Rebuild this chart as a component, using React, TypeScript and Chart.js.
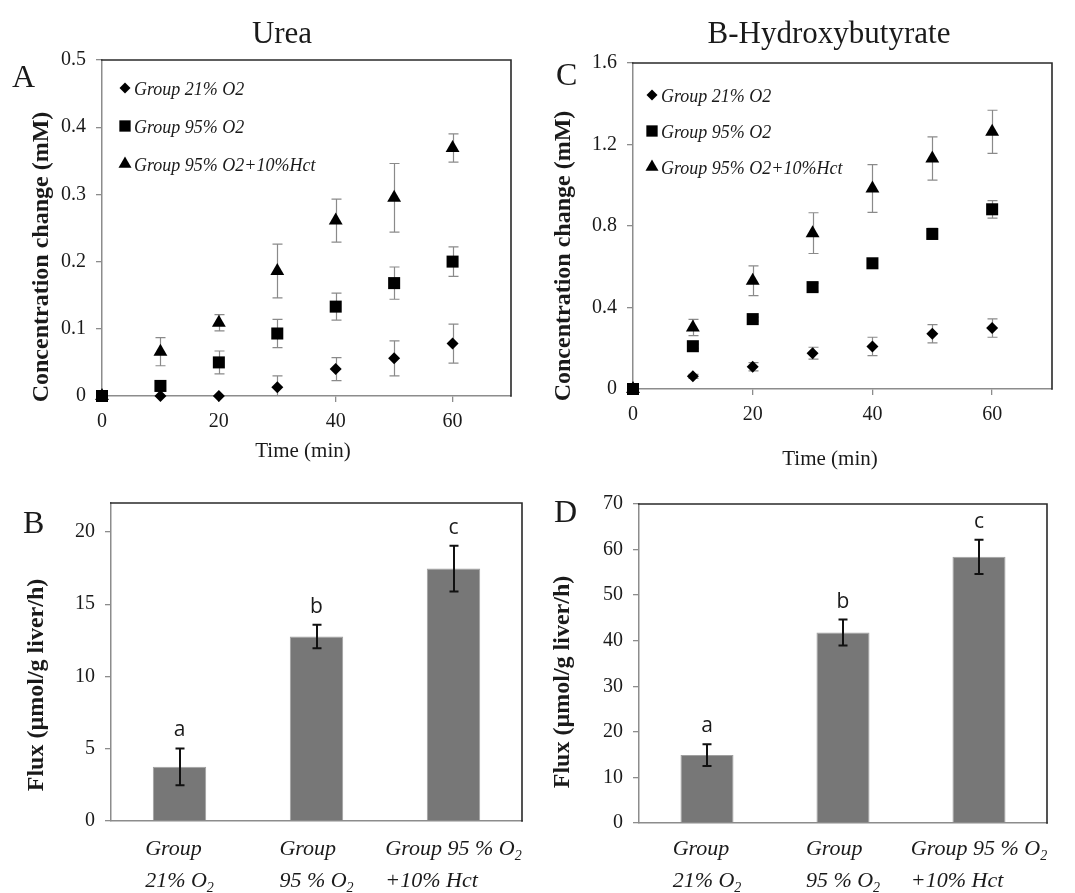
import React, { useEffect, useRef } from 'react';
import { Chart, registerables } from 'chart.js';
import { drawPoint } from 'chart.js/helpers';

Chart.register(...registerables);

// ---------------- data ----------------
const timeMin = [0, 10, 20, 30, 40, 50, 60];
const timeTicks = [0, 20, 40, 60];
const seriesLabels = ['Group 21% O2', 'Group 95% O2', 'Group 95% O2+10%Hct'];

const urea21 = [0, 0, 0, 0.013, 0.040, 0.056, 0.078];
const urea21Err = [0, 0, 0, 0.017, 0.017, 0.026, 0.029];
const urea95 = [0, 0.015, 0.050, 0.093, 0.133, 0.168, 0.200];
const urea95Err = [0, 0.008, 0.017, 0.021, 0.020, 0.024, 0.022];
const ureaHct = [0, 0.066, 0.109, 0.186, 0.261, 0.295, 0.369];
const ureaHctErr = [0, 0.021, 0.012, 0.040, 0.032, 0.051, 0.021];
const ureaConcTicks = [0, 0.1, 0.2, 0.3, 0.4, 0.5];

const bhb21 = [0, 0.062, 0.109, 0.176, 0.209, 0.271, 0.299];
const bhb21Err = [0, 0.010, 0.020, 0.029, 0.045, 0.045, 0.045];
const bhb95 = [0, 0.210, 0.343, 0.500, 0.617, 0.761, 0.882];
const bhb95Err = [0, 0.010, 0.010, 0.020, 0.015, 0.027, 0.043];
const bhbHct = [0, 0.302, 0.531, 0.765, 0.984, 1.131, 1.262];
const bhbHctErr = [0, 0.040, 0.073, 0.100, 0.117, 0.106, 0.106];
const bhbConcTicks = [0, 0.4, 0.8, 1.2, 1.6];

const fluxGroups = [['Group', '21% O₂'], ['Group', '95 % O₂'], ['Group 95 % O₂', '+10% Hct']];
const ureaFlux = [3.75, 12.76, 17.46];
const ureaFluxErr = [1.27, 0.81, 1.59];
const ureaFluxTicks = [0, 5, 10, 15, 20];
const bhbFlux = [14.9, 41.8, 58.4];
const bhbFluxErr = [2.4, 2.85, 3.75];
const bhbFluxTicks = [0, 10, 20, 30, 40, 50, 60, 70];
const sigLetters = ['a', 'b', 'c'];

// ---------------- layout / style ----------------
const W = 1075;
const H = 893;
const YW = 60;
const XH = 40;
const SERIF = '"Liberation Serif", "Times New Roman", serif';
const SANS = '"Open Sans", "Liberation Sans", sans-serif';
const AXIS = '#8c8c8c';
const TEXT = '#1a1a1a';
const pointStyles = ['rectRot', 'rect', 'triangle'];
const pointRadii = [6, 8.5, 8];
const legendRadii = [5.5, 8, 7.5];

const panelA = {
  kind: 'scatter',
  area: { left: 102, right: 511, top: 60, bottom: 396 },
  series: [urea21, urea95, ureaHct],
  errs: [urea21Err, urea95Err, ureaHctErr],
  yTicks: ureaConcTicks, yMax: 0.5,
  title: 'Urea', titleX: 282, titleBase: 43,
  letter: 'A', letterX: 12, letterBase: 87,
  yTitle: 'Concentration change (mM)', yTitleX: 42, yTitleY: 257,
  xTitle: 'Time (min)', xTitleX: 303, xTitleBase: 457,
  legendX: 125, legendBase: 95, legendGap: 38,
};
const panelC = {
  kind: 'scatter',
  area: { left: 633, right: 1052, top: 63, bottom: 389 },
  series: [bhb21, bhb95, bhbHct],
  errs: [bhb21Err, bhb95Err, bhbHctErr],
  yTicks: bhbConcTicks, yMax: 1.6,
  title: 'B-Hydroxybutyrate', titleX: 829, titleBase: 43,
  letter: 'C', letterX: 556, letterBase: 85,
  yTitle: 'Concentration change (mM)', yTitleX: 564, yTitleY: 256,
  xTitle: 'Time (min)', xTitleX: 830, xTitleBase: 465,
  legendX: 652, legendBase: 102, legendGap: 36,
};
const panelB = {
  kind: 'bar',
  area: { left: 111, right: 522, top: 503, bottom: 821 },
  values: ureaFlux, errs: ureaFluxErr,
  yTicks: ureaFluxTicks, yMax: 22,
  letter: 'B', letterX: 23, letterBase: 533,
  yTitle: 'Flux (µmol/g liver/h)', yTitleX: 37, yTitleY: 685,
  labelBase: [855, 887],
};
const panelD = {
  kind: 'bar',
  area: { left: 639, right: 1047, top: 504, bottom: 823 },
  values: bhbFlux, errs: bhbFluxErr,
  yTicks: bhbFluxTicks, yMax: 70,
  letter: 'D', letterX: 554, letterBase: 522,
  yTitle: 'Flux (µmol/g liver/h)', yTitleX: 563, yTitleY: 682,
  labelBase: [855, 887],
};

// ---------------- helpers ----------------
function richText(ctx: CanvasRenderingContext2D, text: string, x: number, y: number, size: number, draw: boolean) {
  let cx = x;
  for (const part of text.split(/(₂)/)) {
    if (!part) continue;
    if (part === '₂') {
      ctx.font = `italic ${Math.round(size * 0.65)}px ${SERIF}`;
      if (draw) ctx.fillText('2', cx, y + size * 0.22);
      cx += ctx.measureText('2').width;
    } else {
      ctx.font = `italic ${size}px ${SERIF}`;
      if (draw) ctx.fillText(part, cx, y);
      cx += ctx.measureText(part).width;
    }
  }
  return cx - x;
}

function yScaleOpts(ticks: number[], max: number) {
  return {
    type: 'linear',
    min: 0,
    max,
    afterBuildTicks: (s: any) => { s.ticks = ticks.map((v) => ({ value: v })); },
    afterFit: (s: any) => { s.width = YW; },
    grid: { display: true, drawOnChartArea: false, drawTicks: true, tickLength: 6, color: AXIS, lineWidth: 1.3 },
    border: { display: true, color: AXIS, width: 1.5 },
    ticks: { font: { family: SERIF, size: 20 }, color: TEXT, padding: 10, callback: (v: any) => String(v) },
  };
}

function basePadding(area: any) {
  return { left: area.left - YW, top: area.top, right: W - area.right, bottom: H - area.bottom - XH };
}

function drawFrame(chart: any) {
  const { ctx, chartArea: a } = chart;
  ctx.save();
  ctx.strokeStyle = '#2a2a2a';
  ctx.lineWidth = 1.6;
  ctx.beginPath();
  ctx.moveTo(a.left - 1, a.top);
  ctx.lineTo(a.right, a.top);
  ctx.lineTo(a.right, a.bottom + 0.75);
  ctx.stroke();
  ctx.restore();
}

function drawCommonText(chart: any, p: any) {
  const ctx = chart.ctx;
  ctx.save();
  ctx.fillStyle = TEXT;
  ctx.textBaseline = 'alphabetic';
  ctx.textAlign = 'left';
  ctx.font = `32px ${SERIF}`;
  ctx.fillText(p.letter, p.letterX, p.letterBase);
  if (p.title) {
    ctx.textAlign = 'center';
    ctx.font = `31px ${SERIF}`;
    ctx.fillText(p.title, p.titleX, p.titleBase);
  }
  ctx.save();
  ctx.translate(p.yTitleX, p.yTitleY);
  ctx.rotate(-Math.PI / 2);
  ctx.textAlign = 'center';
  ctx.textBaseline = 'middle';
  ctx.font = `bold 24px ${SERIF}`;
  ctx.fillText(p.yTitle, 0, 0);
  ctx.restore();
  ctx.restore();
}

function scatterConfig(p: any) {
  const decor = {
    id: 'decor',
    beforeDatasetsDraw(chart: any) {
      const { ctx, chartArea: a } = chart;
      const xs = chart.scales.x;
      const ys = chart.scales.y;
      ctx.save();
      ctx.beginPath();
      ctx.rect(a.left - 10, a.top - 30, a.right - a.left + 20, a.bottom - a.top + 30);
      ctx.clip();
      ctx.strokeStyle = '#8a8a8a';
      ctx.lineWidth = 1.2;
      p.series.forEach((vals: number[], i: number) => {
        vals.forEach((v, j) => {
          const e = p.errs[i][j];
          if (!e) return;
          const x = Math.round(xs.getPixelForValue(timeMin[j])) + 0.5;
          const y1 = ys.getPixelForValue(v + e);
          const y0 = ys.getPixelForValue(v - e);
          ctx.beginPath();
          ctx.moveTo(x, y0);
          ctx.lineTo(x, y1);
          ctx.moveTo(x - 5, y1);
          ctx.lineTo(x + 5, y1);
          if (y0 <= a.bottom) {
            ctx.moveTo(x - 5, y0);
            ctx.lineTo(x + 5, y0);
          }
          ctx.stroke();
        });
      });
      ctx.restore();
    },
    afterDraw(chart: any) {
      drawFrame(chart);
      drawCommonText(chart, p);
      const ctx = chart.ctx;
      ctx.save();
      ctx.fillStyle = TEXT;
      ctx.textAlign = 'center';
      ctx.textBaseline = 'alphabetic';
      ctx.font = `21px ${SERIF}`;
      ctx.fillText(p.xTitle, p.xTitleX, p.xTitleBase);
      // legend
      ctx.textAlign = 'left';
      seriesLabels.forEach((lab, i) => {
        const base = p.legendBase + i * p.legendGap;
        ctx.fillStyle = '#000';
        drawPoint(ctx, { pointStyle: pointStyles[i], radius: legendRadii[i], rotation: 0, borderWidth: 0 } as any, p.legendX, base - 7);
        ctx.fillStyle = TEXT;
        ctx.font = `italic 18px ${SERIF}`;
        ctx.fillText(lab, p.legendX + 9, base);
      });
      ctx.restore();
    },
  };
  return {
    type: 'scatter',
    data: {
      datasets: p.series.map((vals: number[], i: number) => ({
        label: seriesLabels[i],
        data: timeMin.map((t, j) => ({ x: t, y: vals[j] })),
        pointStyle: pointStyles[i],
        pointRadius: pointRadii[i],
        pointHoverRadius: pointRadii[i],
        backgroundColor: '#000',
        borderColor: '#000',
        borderWidth: 0,
        showLine: false,
        clip: false,
      })),
    },
    options: {
      animation: false,
      responsive: false,
      maintainAspectRatio: false,
      devicePixelRatio: 1,
      events: [],
      layout: { padding: basePadding(p.area) },
      plugins: { legend: { display: false }, tooltip: { enabled: false }, title: { display: false } },
      scales: {
        x: {
          type: 'linear',
          min: 0,
          max: 70,
          afterBuildTicks: (s: any) => { s.ticks = timeTicks.map((v) => ({ value: v })); },
          afterFit: (s: any) => { s.height = XH; },
          grid: { display: true, drawOnChartArea: false, drawTicks: true, tickLength: 6, color: AXIS, lineWidth: 1.3 },
          border: { display: true, color: AXIS, width: 1.5 },
          ticks: { font: { family: SERIF, size: 20 }, color: TEXT, padding: 8, maxRotation: 0, callback: (v: any) => String(v) },
        },
        y: yScaleOpts(p.yTicks, p.yMax),
      },
    },
    plugins: [decor],
  };
}

function barConfig(p: any) {
  const decor = {
    id: 'decor',
    afterDatasetsDraw(chart: any) {
      const ctx = chart.ctx;
      const xs = chart.scales.x;
      const ys = chart.scales.y;
      ctx.save();
      ctx.strokeStyle = '#111';
      ctx.lineWidth = 2;
      p.values.forEach((v: number, i: number) => {
        const e = p.errs[i];
        const x = Math.round(xs.getPixelForValue(i));
        const y1 = ys.getPixelForValue(v + e);
        const y0 = ys.getPixelForValue(v - e);
        ctx.beginPath();
        ctx.moveTo(x, y0);
        ctx.lineTo(x, y1);
        ctx.moveTo(x - 4.5, y1);
        ctx.lineTo(x + 4.5, y1);
        ctx.moveTo(x - 4.5, y0);
        ctx.lineTo(x + 4.5, y0);
        ctx.stroke();
      });
      ctx.restore();
    },
    afterDraw(chart: any) {
      drawFrame(chart);
      drawCommonText(chart, p);
      const ctx = chart.ctx;
      const xs = chart.scales.x;
      const ys = chart.scales.y;
      ctx.save();
      ctx.fillStyle = TEXT;
      ctx.textBaseline = 'alphabetic';
      // significance letters
      ctx.textAlign = 'center';
      ctx.font = `21px ${SANS}`;
      p.values.forEach((v: number, i: number) => {
        const x = xs.getPixelForValue(i);
        ctx.fillText(sigLetters[i], x, ys.getPixelForValue(v + p.errs[i]) - 12);
      });
      // category labels: left-aligned lines, block centred on the bar
      ctx.textAlign = 'left';
      fluxGroups.forEach((lines, i) => {
        const cx = xs.getPixelForValue(i);
        const widths = lines.map((l) => richText(ctx, l, 0, 0, 22, false));
        const bw = Math.max(...widths);
        lines.forEach((l, k) => {
          richText(ctx, l, cx - bw / 2, p.labelBase[k], 22, true);
        });
      });
      ctx.restore();
    },
  };
  return {
    type: 'bar',
    data: {
      labels: fluxGroups.map((l) => l.join(' ')),
      datasets: [
        {
          data: p.values,
          backgroundColor: '#777777',
          borderColor: '#a0a0a0',
          borderWidth: 1,
          barPercentage: 0.39,
          categoryPercentage: 1,
        },
      ],
    },
    options: {
      animation: false,
      responsive: false,
      maintainAspectRatio: false,
      devicePixelRatio: 1,
      events: [],
      layout: { padding: basePadding(p.area) },
      plugins: { legend: { display: false }, tooltip: { enabled: false }, title: { display: false } },
      scales: {
        x: {
          type: 'category',
          afterFit: (s: any) => { s.height = XH; },
          grid: { display: false },
          border: { display: true, color: AXIS, width: 1.5 },
          ticks: { display: false },
        },
        y: yScaleOpts(p.yTicks, p.yMax),
      },
    },
    plugins: [decor],
  };
}

function ChartCanvas({ build }: { build: () => any }) {
  const ref = useRef<HTMLCanvasElement | null>(null);
  useEffect(() => {
    if (!ref.current) return;
    const chart = new Chart(ref.current, build());
    return () => chart.destroy();
  }, []);
  return (
    <canvas
      ref={ref}
      width={W}
      height={H}
      style={{ position: 'absolute', left: 0, top: 0, width: W, height: H }}
    />
  );
}

export default function App() {
  return (
    <div style={{ position: 'absolute', left: 0, top: 0, width: W, height: H, background: '#ffffff', overflow: 'hidden' }}>
      <ChartCanvas build={() => scatterConfig(panelA)} />
      <ChartCanvas build={() => scatterConfig(panelC)} />
      <ChartCanvas build={() => barConfig(panelB)} />
      <ChartCanvas build={() => barConfig(panelD)} />
    </div>
  );
}
